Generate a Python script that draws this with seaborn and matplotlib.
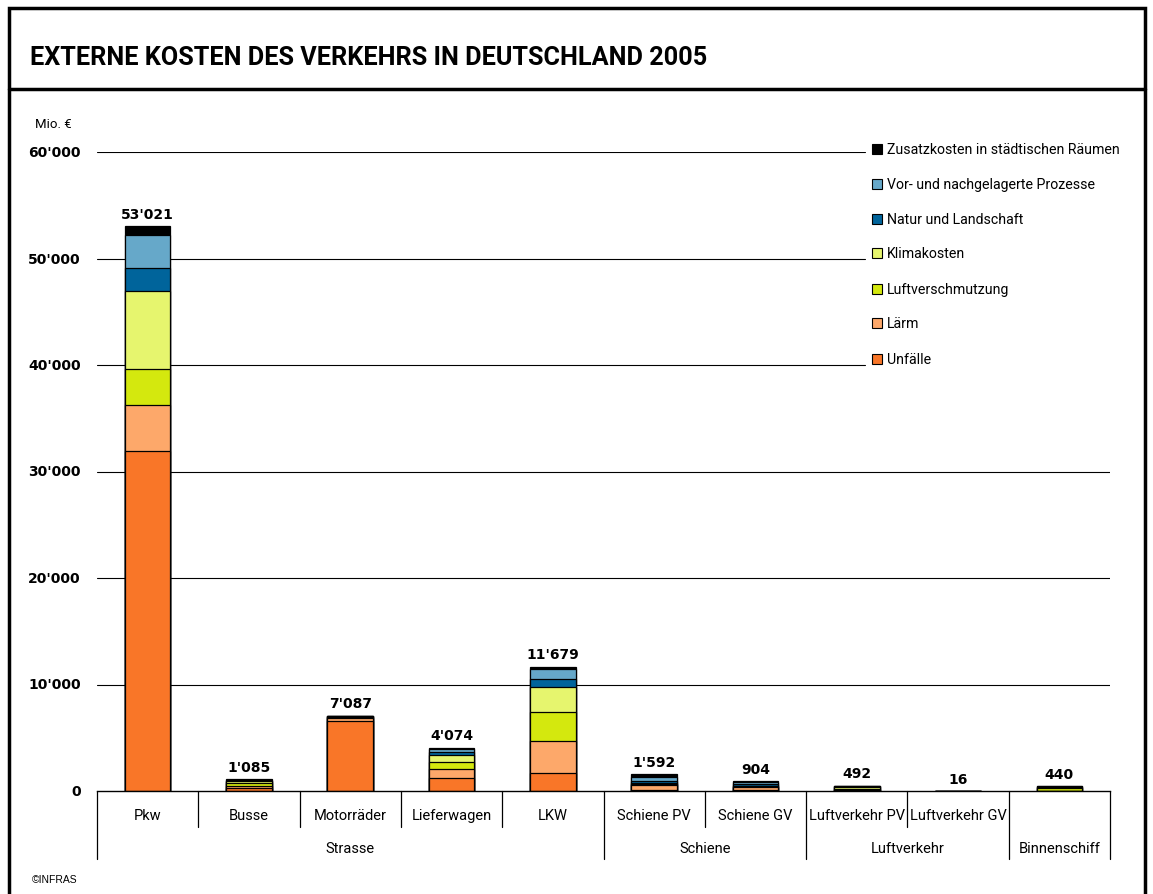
import numpy as np
import pandas as pd
import matplotlib
matplotlib.use("Agg")
import matplotlib.pyplot as plt
from matplotlib.patches import Rectangle
from matplotlib.lines import Line2D
import seaborn as sns

# categories and groups
categories = ['Pkw', 'Busse', 'Motorräder', 'Lieferwagen', 'LKW',
              'Schiene PV', 'Schiene GV', 'Luftverkehr PV', 'Luftverkehr GV', 'Binnenschiff']
sub_labels = ['Pkw', 'Busse', 'Motorräder', 'Lieferwagen', 'LKW',
              'Schiene PV', 'Schiene GV', 'Luftverkehr PV', 'Luftverkehr GV', '']
groups = ['Strasse', 'Schiene', 'Luftverkehr', 'Binnenschiff']
group_sizes = [5, 2, 2, 1]

# cost components (Mio. €), bottom to top
components = ['Unfälle', 'Lärm', 'Luftverschmutzung', 'Klimakosten',
              'Natur und Landschaft', 'Vor- und nachgelagerte Prozesse',
              'Zusatzkosten in städtischen Räumen']
unfaelle = [31900, 300, 6550, 1190, 1660, 120, 60, 5, 0, 5]
laerm = [4350, 180, 300, 910, 3070, 420, 300, 110, 5, 0]
luft = [3420, 260, 60, 650, 2660, 120, 90, 80, 3, 270]
klima = [7270, 170, 100, 660, 2410, 130, 60, 220, 6, 60]
natur = [2200, 40, 20, 250, 720, 130, 120, 10, 0, 30]
vorproz = [3060, 110, 40, 310, 970, 380, 200, 60, 2, 75]
zusatz = [821, 25, 17, 104, 189, 292, 74, 7, 0, 0]
totals = [53021, 1085, 7087, 4074, 11679, 1592, 904, 492, 16, 440]

colors = ['#F97628', '#FDA86A', '#D4E80E', '#E6F56E', '#00649B', '#66A8C9', '#000000']

series = [unfaelle, laerm, luft, klima, natur, vorproz, zusatz]
cum = np.cumsum(np.array(series), axis=0)

sns.set_style("white")
plt.rcParams['font.family'] = ['DejaVu Sans']
plt.rcParams['text.color'] = 'black'
narrow = ['Roboto', 'DejaVu Sans']

fig = plt.figure(figsize=(11.53, 8.95), dpi=100)
W, H = 1153, 895

def fx(px):
    return px / W

def fy(py):
    return 1 - py / H

ax = fig.add_axes([fx(97), fy(792), fx(1110) - fx(97), fy(153) - fy(792)])

# gridlines
for v in [10000, 20000, 30000, 40000, 50000, 60000]:
    xmax = (865 - 97) / (1110 - 97) if v >= 40000 else 1.0
    ax.axhline(v, xmin=0, xmax=xmax, color='black', lw=0.8, zorder=0)

# stacked bars: draw cumulative layers from top to bottom
for i in range(len(components) - 1, -1, -1):
    df = pd.DataFrame({'cat': categories, 'val': cum[i]})
    sns.barplot(data=df, x='cat', y='val', order=categories, color=colors[i],
                saturation=1, width=0.45, edgecolor='black', linewidth=0.9,
                ax=ax, zorder=2)

for k, t in enumerate(totals):
    ax.text(k, t + 500, f"{t:,}".replace(",", "'"), ha='center', va='bottom',
            fontsize=10, fontweight='bold')

ax.set_xlim(-0.5, 9.5)
ax.set_ylim(0, 60000)
ax.set_xlabel('')
ax.set_ylabel('')
ax.set_xticks([])
ax.set_yticks([])
for s in ['top', 'right', 'left']:
    ax.spines[s].set_visible(False)
ax.spines['bottom'].set_linewidth(1.0)
ax.spines['bottom'].set_color('black')

# y tick labels
for v in range(0, 60001, 10000):
    lab = f"{v:,}".replace(",", "'")
    ax.text(-0.5 - 0.16, v, lab, ha='right', va='center', fontsize=10,
            fontweight='bold')
fig.text(fx(35), fy(125), 'Mio. €', ha='left', va='center', fontsize=9.5, family=narrow)

# category axis with separators
x0, x1 = 97, 1110
step = (x1 - x0) / len(categories)
for k, c in enumerate(sub_labels):
    fig.text(fx(x0 + step * (k + 0.5)), fy(816), c, ha='center', va='center',
             fontsize=10.5, family=narrow)
group_edges = np.cumsum([0] + group_sizes)
for k in range(len(categories) + 1):
    bottom = 860 if k in group_edges else 828
    fig.add_artist(Line2D([fx(x0 + step * k)] * 2, [fy(792), fy(bottom)],
                          color='black', lw=0.9))
for g, a, b in zip(groups, group_edges[:-1], group_edges[1:]):
    fig.text(fx(x0 + step * (a + b) / 2), fy(849), g, ha='center', va='center',
             fontsize=10.5, family=narrow)

# legend
leg_y = [150, 185, 220, 254, 290, 324, 360]
for j, yy in enumerate(leg_y):
    i = len(components) - 1 - j
    fig.add_artist(Rectangle((fx(872), fy(yy + 5)), fx(10), fy(0) - fy(10),
                             facecolor=colors[i], edgecolor='black', lw=0.8))
    fig.text(fx(887), fy(yy), components[i], ha='left', va='center',
             fontsize=10.2, family=narrow)

# title and frame
fig.text(fx(30), fy(58), 'EXTERNE KOSTEN DES VERKEHRS IN DEUTSCHLAND 2005',
         ha='left', va='center', fontsize=18.2, fontweight='bold', family=narrow)
fig.add_artist(Rectangle((fx(9), fy(905)), fx(1145) - fx(9), fy(9) - fy(905),
                         fill=False, edgecolor='black', lw=2.5))
fig.add_artist(Line2D([fx(9), fx(1145)], [fy(90), fy(90)], color='black', lw=2.5))
fig.text(fx(32), fy(880), '©INFRAS', ha='left', va='center', fontsize=7.5,
         family=['Liberation Sans', 'DejaVu Sans'])

fig.savefig('out.png', dpi=100)
